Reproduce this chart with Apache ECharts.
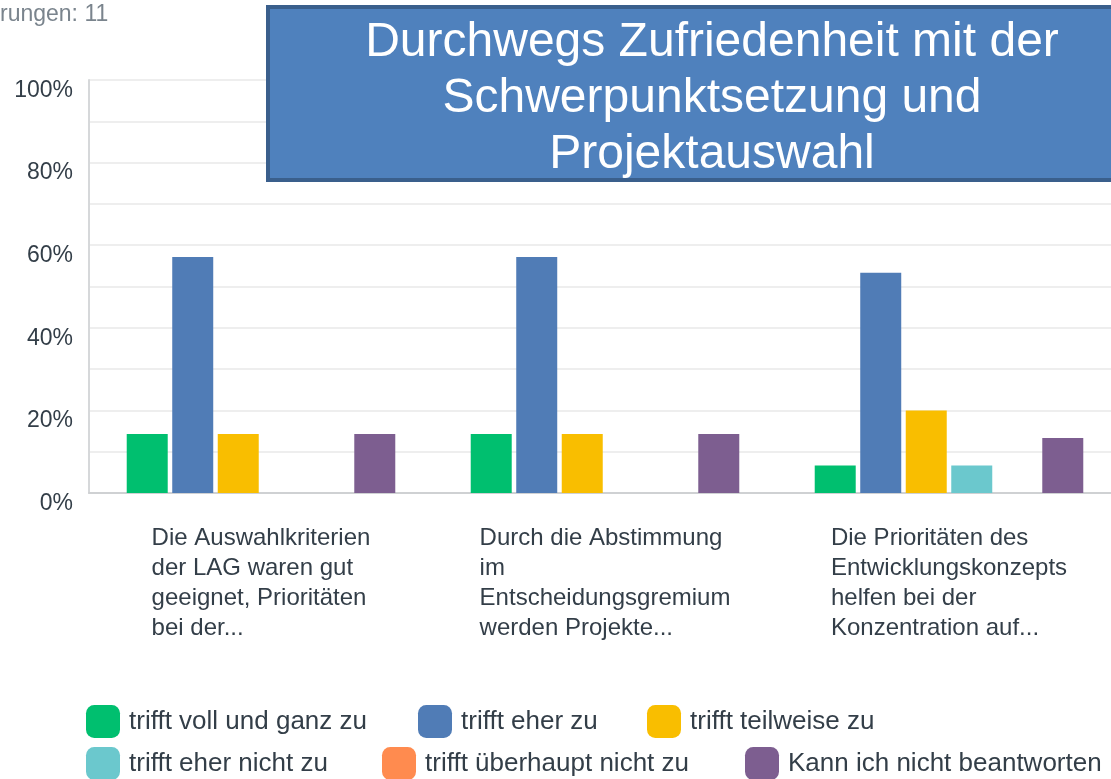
<!DOCTYPE html>
<html>
<head>
<meta charset="utf-8">
<title>Durchwegs Zufriedenheit</title>
<script src="https://cdn.jsdelivr.net/npm/echarts@6/dist/echarts.min.js"></script>
<style>
  html, body { margin: 0; padding: 0; background: #fff; }
  #chart { width: 1111px; height: 779px; }
</style>
</head>
<body>
<div id="chart"></div>
<script>
// Kategorien (Fragen, wie im Original umgebrochen)
var categories = [
    'Die Auswahlkriterien\nder LAG waren gut\ngeeignet, Prioritäten\nbei der...',
    'Durch die Abstimmung\nim\nEntscheidungsgremium\nwerden Projekte...',
    'Die Prioritäten des\nEntwicklungskonzepts\nhelfen bei der\nKonzentration auf...'
];
var seriesNames = [
    'trifft voll und ganz zu',
    'trifft eher zu',
    'trifft teilweise zu',
    'trifft eher nicht zu',
    'trifft überhaupt nicht zu',
    'Kann ich nicht beantworten'
];
// Anteile in %
var vollUndGanz = [14.29, 14.29, 6.67];
var eherZu = [57.14, 57.14, 53.33];
var teilweise = [14.29, 14.29, 20.0];
var eherNicht = [0, 0, 6.67];
var ueberhauptNicht = [0, 0, 0];
var kannNicht = [14.29, 14.29, 13.33];

var seriesData = [vollUndGanz, eherZu, teilweise, eherNicht, ueberhauptNicht, kannNicht];
var colors = ['#00bf6f', '#507cb6', '#f9be00', '#6bc8cd', '#ff8b4f', '#7d5e90'];

var titleText = 'Durchwegs Zufriedenheit mit der\nSchwerpunktsetzung und\nProjektauswahl';
var countText = 'rungen: 11';

var font = 'Liberation Sans, Arial, sans-serif';
var textColor = '#333e48';

// Legendenpositionen (links, oben)
var legendPos = [[86, 705], [418, 705], [647, 705], [86, 747], [382, 747], [745, 747]];

var myChart = echarts.init(document.getElementById('chart'));

var legends = seriesNames.map(function (name, i) {
    return {
        data: [name],
        left: legendPos[i][0],
        top: legendPos[i][1],
        padding: 0,
        itemGap: 0,
        itemWidth: 34,
        itemHeight: 33,
        icon: 'roundRect',
        selectedMode: false,
        textStyle: {
            fontFamily: font,
            fontSize: 26,
            color: textColor,
            padding: [0, 0, 0, 4]
        }
    };
});

var series = seriesNames.map(function (name, i) {
    return {
        name: name,
        type: 'bar',
        barWidth: 41,
        barGap: '11%',
        itemStyle: { color: colors[i] },
        data: seriesData[i]
    };
});

myChart.setOption({
    animation: false,
    color: colors,
    grid: {
        left: 89,
        top: 80,
        width: 1032,
        bottom: 286,
        containLabel: false,
        outerBoundsMode: 'none'
    },
    legend: legends,
    xAxis: {
        type: 'category',
        data: categories,
        axisLine: { lineStyle: { color: '#cfd1d3', width: 2 } },
        axisTick: { show: false },
        axisLabel: {
            interval: 0,
            margin: 30,
            verticalAlign: 'top',
            align: 'center',
            formatter: function (v) {
                return v.split('\n').map(function (s) { return '{a|' + s + '}'; }).join('\n');
            },
            rich: {
                a: {
                    align: 'left',
                    fontFamily: font,
                    fontSize: 24,
                    lineHeight: 30,
                    color: textColor
                }
            }
        }
    },
    yAxis: {
        type: 'value',
        min: 0,
        max: 100,
        interval: 10,
        axisLine: { show: true, lineStyle: { color: '#d6d8da', width: 2 } },
        axisTick: { show: false },
        splitLine: { lineStyle: { color: '#eeeeee', width: 2 } },
        axisLabel: {
            margin: 16,
            fontFamily: font,
            fontSize: 23,
            color: textColor,
            verticalAlign: 'top',
            lineHeight: 21,
            formatter: function (v) {
                return v % 20 === 0 ? v + '%' : '';
            }
        }
    },
    graphic: [
        {
            type: 'text',
            left: 0,
            top: 3,
            style: {
                text: countText,
                font: '23px ' + font,
                fill: '#7a848d'
            }
        },
        {
            type: 'rect',
            z: 100,
            shape: { x: 268, y: 7, width: 900, height: 173 },
            style: { fill: '#4f81bd', stroke: '#3a5f8c', lineWidth: 4 }
        },
        {
            type: 'text',
            z: 101,
            x: 712,
            y: 99,
            style: {
                text: titleText,
                font: '48px ' + font,
                lineHeight: 56,
                fill: '#ffffff',
                align: 'center',
                verticalAlign: 'middle'
            }
        }
    ],
    series: series
});
</script>
</body>
</html>
